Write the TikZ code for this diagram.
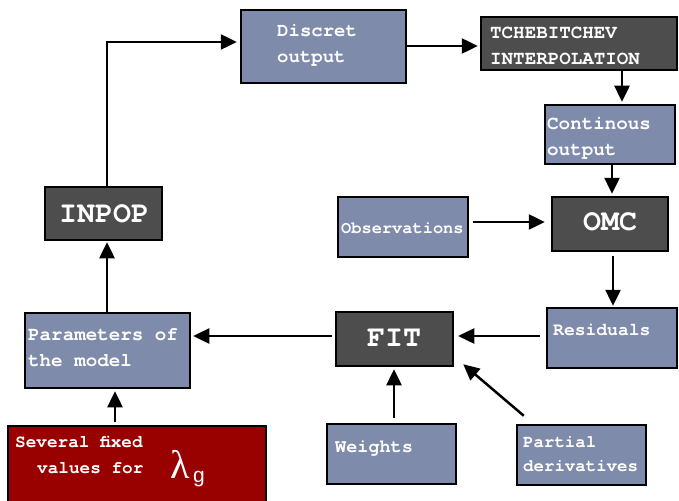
\documentclass[tikz,border=0pt]{standalone}
\usepackage{fontspec}
\setmonofont{TeX Gyre Cursor}
\newfontfamily\lamfont{Liberation Serif}
\newfontfamily\gfont{Liberation Sans}
\usetikzlibrary{arrows.meta,calc}
\definecolor{boxblue}{HTML}{7F8BAA}
\definecolor{boxdark}{HTML}{4D4D4D}
\definecolor{boxred}{HTML}{990000}
\begin{document}
\begin{tikzpicture}[x=1pt,y=-1pt,
  box/.style={draw=black,line width=2.5pt,rectangle,inner sep=0pt},
  bluebox/.style={box,fill=boxblue},
  darkbox/.style={box,fill=boxdark},
  redbox/.style={box,fill=boxred},
  lbl/.style={inner sep=0pt,anchor=base west,text=white,font=\ttfamily\bfseries\fontsize{#1}{26}\selectfont},
  blbl/.style={inner sep=0pt,anchor=base,text=white,font=\ttfamily\bfseries\fontsize{30}{30}\selectfont},
  arr/.style={line width=2.5pt,-{Triangle[length=16pt,width=15pt]}}]
\useasboundingbox (0,0) rectangle (679,500);

% boxes
\node[bluebox,minimum width=165pt,minimum height=73pt] (disc) at (323.5,46.5) {};
\node[darkbox,minimum width=196pt,minimum height=53pt] (tcheb) at (579,43.5) {};
\node[bluebox,minimum width=130pt,minimum height=59pt] (cont) at (610,134.5) {};
\node[darkbox,minimum width=116pt,minimum height=54pt] (omc) at (610,224) {};
\node[bluebox,minimum width=130pt,minimum height=60pt] (obs) at (403,227) {};
\node[darkbox,minimum width=117pt,minimum height=53pt] (inpop) at (103.5,213.5) {};
\node[bluebox,minimum width=165pt,minimum height=75pt] (param) at (107.5,350.5) {};
\node[redbox,minimum width=258pt,minimum height=84pt] (sev) at (137,468) {};
\node[darkbox,minimum width=117pt,minimum height=54pt] (fit) at (394.5,339) {};
\node[bluebox,minimum width=130pt,minimum height=60pt] (res) at (612,338) {};
\node[bluebox,minimum width=129pt,minimum height=60pt] (wts) at (391.5,454) {};
\node[bluebox,minimum width=129pt,minimum height=60pt] (pd) at (581.5,455) {};

% texts
\node[lbl=19] (disc1) at (277,37) {Discret};
\node[lbl=19] (disc2) at (277,63) {output};
\node[lbl=19.2] (tcheb1) at (490,39) {TCHEBITCHEV};
\node[lbl=19.2] (tcheb2) at (490,65) {INTERPOLATION};
\node[lbl=19.2] (cont1) at (547,129) {Continous};
\node[lbl=19.2] (cont2) at (547,155) {output};
\node[lbl=17] (obs1) at (341,233) {Observations};
\node[blbl] (omct) at (610,230) {OMC};
\node[blbl] (inpopt) at (104,222) {INPOP};
\node[lbl=19.2] (param1) at (28,340) {Parameters of};
\node[lbl=19.2] (param2) at (28,366) {the model};
\node[lbl=17.7] (sev1) at (15,447) {Several fixed};
\node[lbl=17.7] (sev2) at (37,473) {values for};
\node[inner sep=0pt,anchor=base west,text=white,font=\lamfont\fontsize{40}{40}\selectfont] (lam) at (170,478) {λ};
\node[inner sep=0pt,anchor=base west,text=white,font=\gfont\fontsize{21}{21}\selectfont] (lamg) at (193,482) {g};
\node[blbl] (fitt) at (394,346) {FIT};
\node[lbl=18] (res1) at (553,335) {Residuals};
\node[lbl=18.5] (wts1) at (335,452) {Weights};
\node[lbl=17.4] (pd1) at (523,447) {Partial};
\node[lbl=17.4] (pd2) at (523,471) {derivatives};

% connectors
\draw[arr] ([xshift=3.5pt]inpop.north) |- ([xshift=-3pt,yshift=4.5pt]disc.west);
\draw[arr] ([yshift=0.5pt]disc.east) -- ([xshift=-2pt,yshift=-2.5pt]tcheb.west);
\draw[arr] ([xshift=43pt]tcheb.south) -- ([xshift=12pt,yshift=2pt]cont.north);
\draw[arr] ([xshift=2pt]cont.south) -- ([xshift=2pt,yshift=2pt]omc.north);
\draw[arr] ([xshift=4pt,yshift=5pt]obs.east) -- ([xshift=-6pt,yshift=2pt]omc.west);
\draw[arr] ([xshift=3pt,yshift=-4pt]omc.south) -- ([xshift=1pt,yshift=1pt]res.north);
\draw[arr] ([xshift=-6pt,yshift=2pt]res.west) -- ([xshift=4pt,yshift=3pt]fit.east);
\draw[arr] ([xshift=2.5pt,yshift=5pt]wts.north) -- ([xshift=-0.5pt,yshift=-2pt]fit.south);
\draw[arr] ([xshift=8pt,yshift=8pt]pd.north west) -- ([xshift=9pt,yshift=3pt]fit.south east);
\draw[arr] ([xshift=-3pt,yshift=3pt]fit.west) -- ([xshift=2pt,yshift=14.5pt]param.east);
\draw[arr] ([xshift=-22pt,yshift=3pt]sev.north) -- ([xshift=7.5pt,yshift=-2pt]param.south);
\draw[arr] ([xshift=-0.5pt]param.north) -- ([xshift=3.5pt,yshift=-1pt]inpop.south);
\end{tikzpicture}
\end{document}
